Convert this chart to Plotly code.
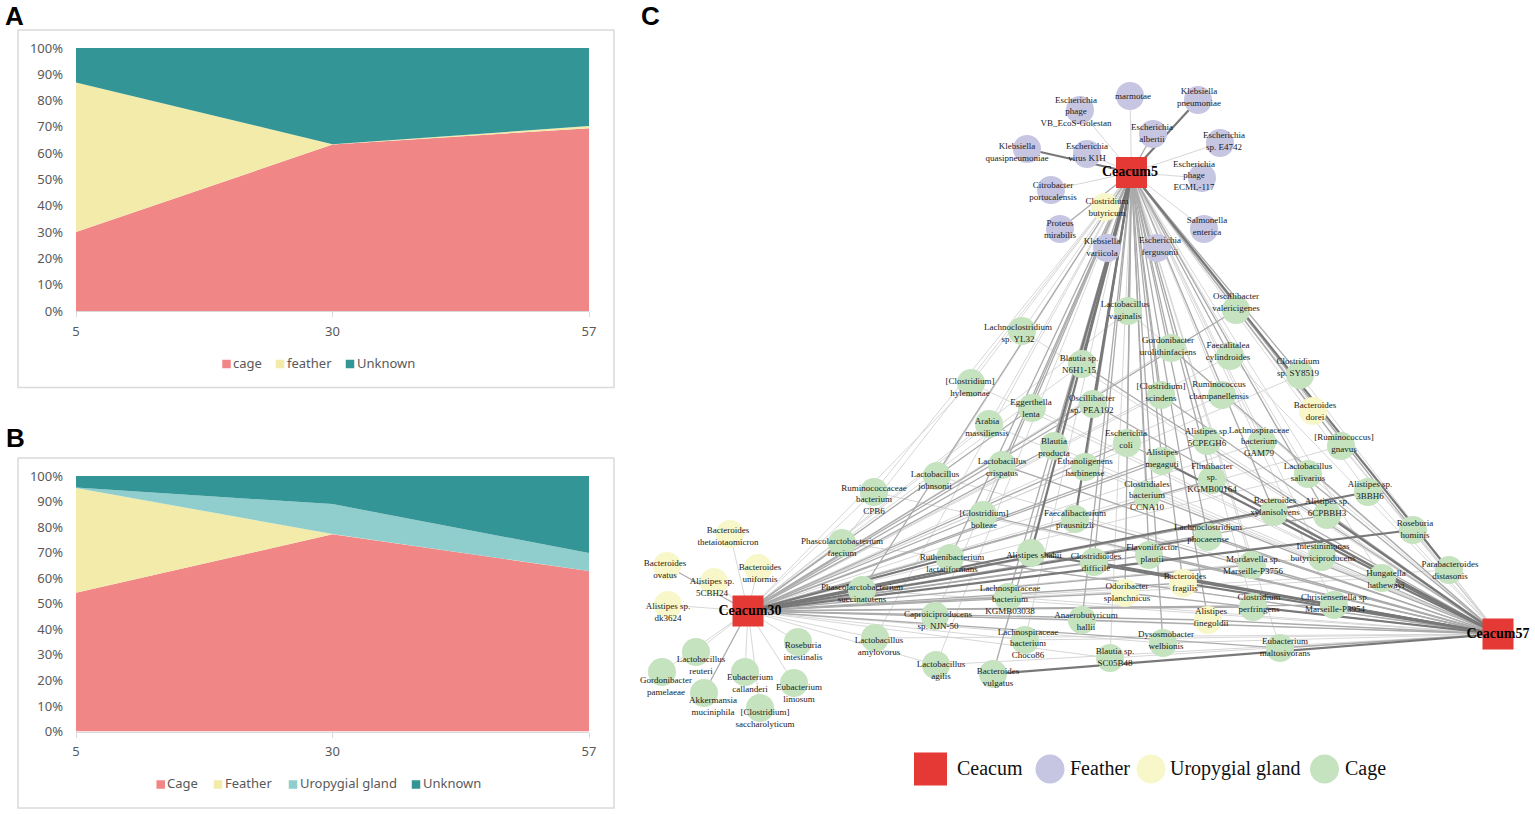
import plotly.graph_objects as go

W, H = 1535, 814

# Panel A / B data
time_labels = ["5", "30", "57"]
a_names = ["cage", "feather", "Unknown"]
a_cage = [30.0, 63.3, 69.5]
a_feather = [56.9, 0.1, 0.8]
a_unknown = [13.1, 36.6, 29.7]
b_names = ["Cage", "Feather", "Uropygial gland", "Unknown"]
b_cage = [54.3, 77.2, 62.8]
b_feather = [41.0, 0.1, 0.0]
b_gland = [0.2, 11.7, 7.1]
b_unknown = [4.5, 11.0, 30.1]

COL_CAGE, COL_FEATHER, COL_GLAND, COL_UNKNOWN = "#F08686", "#F2EBAA", "#90CDCD", "#339595"

# Panel C network data
hub_names = ["Ceacum5", "Ceacum30", "Ceacum57"]
hub_x = [1131.5, 748, 1498]
hub_y = [172.5, 611, 634]
hub_label_x = [1130, 750, 1498]

node_names = [
    "marmotae", "Klebsiella<br>pneumoniae", "Escherichia<br>phage<br>VB_EcoS-Golestan", "Escherichia<br>albertii",
    "Escherichia<br>sp. E4742", "Klebsiella<br>quasipneumoniae", "Escherichia<br>virus K1H", "Escherichia<br>phage<br>ECML-117",
    "Citrobacter<br>portucalensis", "Clostridium<br>butyricum", "Proteus<br>mirabilis", "Klebsiella<br>variicola",
    "Escherichia<br>fergusonii", "Salmonella<br>enterica",
    "Bacteroides<br>thetaiotaomicron", "Bacteroides<br>ovatus", "Bacteroides<br>uniformis", "Alistipes sp.<br>5CBH24",
    "Alistipes sp.<br>dk3624", "Roseburia<br>intestinalis", "Lactobacillus<br>reuteri", "Gordonibacter<br>pamelaeae",
    "Eubacterium<br>callanderi", "Eubacterium<br>limosum", "Akkermansia<br>muciniphila", "[Clostridium]<br>saccharolyticum",
    "Lactobacillus<br>vaginalis", "Lachnoclostridium<br>sp. YL32", "Gordonibacter<br>urolithinfaciens", "Blautia sp.<br>N6H1-15",
    "[Clostridium]<br>hylemonae", "Oscillibacter<br>sp. PEA192", "[Clostridium]<br>scindens", "Eggerthella<br>lenta",
    "Arabia<br>massiliensis", "Escherichia<br>coli", "Alistipes sp.<br>5CPEGH6", "Blautia<br>producta",
    "Alistipes<br>megaguti", "Lactobacillus<br>crispatus", "Ethanoligenens<br>harbinense", "Flintibacter<br>sp.<br>KGMB00164",
    "Clostridiales<br>bacterium<br>CCNA10", "Lactobacillus<br>johnsonii", "Faecalitalea<br>cylindroides", "Oscillibacter<br>valericigenes",
    "Clostridium<br>sp. SY8519", "Ruminococcus<br>champanellensis", "Bacteroides<br>dorei", "Lachnospiraceae<br>bacterium<br>GAM79",
    "[Ruminococcus]<br>gnavus", "Lactobacillus<br>salivarius", "Alistipes sp.<br>3BBH6", "Bacteroides<br>xylanisolvens",
    "Alistipes sp.<br>6CPBBH3", "Roseburia<br>hominis", "Lachnoclostridium<br>phocaeense", "Intestinimonas<br>butyriciproducens",
    "Mordavella sp.<br>Marseille-P3756", "Hungatella<br>hathewayi", "Parabacteroides<br>distasonis", "Clostridium<br>perfringens",
    "Christensenella sp.<br>Marseille-P3954", "Alistipes<br>finegoldii", "Eubacterium<br>maltosivorans", "[Clostridium]<br>bolteae",
    "Faecalibacterium<br>prausnitzii", "Ruthenibacterium<br>lactatiformans", "Alistipes shahii", "Clostridioides<br>difficile",
    "Flavonifractor<br>plautii", "Bacteroides<br>fragilis", "Odoribacter<br>splanchnicus", "Lachnospiraceae<br>bacterium<br>KGMB03038",
    "Caproiciproducens<br>sp. NJN-50", "Anaerobutyricum<br>hallii", "Lachnospiraceae<br>bacterium<br>Choco86", "Dysosmobacter<br>welbionis",
    "Blautia sp.<br>SC05B48", "Lactobacillus<br>agilis", "Bacteroides<br>vulgatus", "Phascolarctobacterium<br>faecium",
    "Phascolarctobacterium<br>succinatutens", "Lactobacillus<br>amylovorus", "Ruminococcaceae<br>bacterium<br>CPB6",
]
node_group = [
    "F", "F", "F", "F", "F", "F", "F", "F", "F", "U", "F", "F", "F", "F",
    "U", "U", "U", "U", "U", "C", "C", "C", "C", "C", "C", "C",
    "C", "C", "C", "C", "C", "C", "C", "C", "C", "C", "C", "C", "C", "C", "C", "C", "C", "C", "C", "C",
    "C", "C", "U", "C", "C", "C", "C", "C", "C", "C", "C", "C", "C", "C", "C", "C", "C", "U", "C", "C",
    "C", "C", "C", "C", "C", "U", "U", "C", "C", "C", "C", "C", "C", "C", "C", "C", "C", "C", "C",
]
node_x = [
    1130, 1198, 1080, 1153, 1220, 1027, 1087, 1202, 1051, 1105, 1060, 1107, 1157, 1204,
    730, 667, 758, 714, 668, 798, 696, 662, 745, 794, 704, 760,
    1128, 1022, 1171, 1082, 971, 1093, 1161, 1032, 989, 1127, 1207, 1054, 1162, 1002, 1085, 1212,
    1147, 937, 1230, 1236, 1300, 1222, 1313, 1262, 1341, 1308, 1368, 1274, 1327, 1413, 1208, 1322,
    1252, 1382, 1449, 1253, 1334, 1208, 1280, 983, 1075, 950, 1031, 1094, 1149, 1183, 1125, 1008,
    935, 1082, 1025, 1163, 1110, 936, 993, 842, 862, 875, 874,
]
node_y = [
    96, 100, 110, 134, 143, 149, 154, 178, 190, 207, 229, 248, 248, 229,
    534, 566, 568, 582, 605, 642, 652, 672, 672, 683, 693, 708,
    311, 331, 348, 364, 383, 404, 395, 408, 424, 443, 441, 446, 461, 465, 467, 480,
    495, 476, 356, 310, 375, 395, 411, 442, 446, 474, 492, 512, 515, 530, 537, 557,
    565, 578, 570, 607, 605, 620, 648, 515, 519, 558, 553, 562, 555, 583, 593, 597,
    616, 620, 640, 643, 658, 665, 674, 543, 590, 638, 492,
]
label_x = [
    1133, 1199, 1076, 1152, 1224, 1017, 1087, 1194, 1053, 1107, 1060, 1102, 1160, 1207,
    728, 665, 760, 712, 668, 803, 701, 666, 750, 799, 713, 765,
    1125, 1018, 1168, 1079, 970, 1092, 1161, 1031, 987, 1126, 1207, 1054, 1162, 1002, 1085, 1212,
    1147, 935, 1228, 1236, 1298, 1219, 1315, 1259, 1344, 1308, 1370, 1275, 1327, 1415, 1208, 1323,
    1253, 1386, 1450, 1259, 1335, 1211, 1285, 984, 1075, 952, 1034, 1096, 1152, 1185, 1127, 1010,
    938, 1086, 1028, 1166, 1115, 941, 998, 842, 862, 879, 874,
]
label_y = [
    97, 98, 112, 134, 142, 153, 153, 176, 192, 208, 230, 248, 247, 227,
    537, 570, 574, 588, 613, 652, 666, 687, 684, 694, 707, 719,
    311, 334, 347, 365, 388, 405, 393, 409, 428, 440, 438, 448, 459, 468, 468, 478,
    496, 481, 352, 303, 368, 391, 412, 442, 444, 473, 491, 507, 508, 530, 534, 553,
    566, 580, 571, 604, 604, 618, 648, 520, 520, 564, 556, 563, 554, 583, 593, 600,
    621, 622, 644, 641, 658, 671, 678, 548, 594, 647, 500,
]
# Edge strength class to each hub (0 = no edge, 1 = thin, 2 = medium, 3 = heavy)
weight_to_5 = [
    1, 3, 1, 2, 1, 3, 1, 1, 1, 1, 2, 2, 1, 1,
    0, 0, 0, 0, 0, 0, 0, 0, 0, 0, 0, 0,
    2, 1, 2, 3, 1, 3, 2, 2, 1, 2, 2, 3, 2, 2, 2, 2,
    2, 1, 2, 1, 2, 1, 1, 1, 2, 1, 1, 2, 2, 2, 2, 1,
    1, 1, 3, 1, 1, 2, 1, 2, 3, 2, 3, 2, 2, 2, 2, 2,
    1, 2, 1, 2, 1, 1, 2, 1, 2, 1, 1,
]
weight_to_30 = [
    0, 0, 0, 0, 0, 0, 0, 0, 0, 0, 0, 0, 0, 0,
    1, 2, 1, 1, 1, 1, 1, 1, 1, 1, 2, 1,
    1, 0, 1, 1, 1, 2, 1, 2, 1, 2, 2, 2, 2, 2, 1, 2,
    1, 1, 1, 2, 1, 1, 0, 1, 1, 1, 3, 2, 2, 3, 3, 1,
    2, 1, 1, 2, 2, 2, 2, 2, 2, 3, 3, 2, 2, 2, 2, 2,
    1, 2, 1, 1, 1, 1, 0, 2, 2, 1, 1,
]
weight_to_57 = [
    0, 0, 0, 0, 0, 0, 0, 0, 0, 0, 0, 0, 0, 0,
    0, 0, 0, 0, 0, 0, 0, 0, 0, 0, 0, 0,
    1, 1, 2, 2, 1, 2, 2, 1, 1, 2, 1, 1, 3, 2, 1, 3,
    2, 1, 1, 1, 1, 1, 1, 2, 1, 1, 1, 2, 3, 1, 2, 2,
    2, 3, 1, 3, 3, 2, 2, 2, 2, 2, 3, 3, 2, 3, 2, 1,
    1, 2, 1, 1, 1, 1, 3, 1, 1, 1, 1,
]
assert len(node_names) == len(node_group) == len(node_x) == len(node_y) == len(label_x) == len(label_y)
assert len(node_names) == len(weight_to_5) == len(weight_to_30) == len(weight_to_57)

legend_names = ["Ceacum", "Feather", "Uropygial gland", "Cage"]
legend_marker_x = [930.5, 1050, 1151, 1324.5]
legend_text_x = [957, 1070, 1170, 1345]
legend_y = 769

# Keys of panels A and B
a_key_y = 364
a_key_marker_x = [226.5, 280, 350]
a_key_text_x = [233, 287, 357]
b_key_y = 784.5
b_key_marker_x = [160.7, 218, 293, 416]
b_key_text_x = [167, 225, 300, 423]

GROUP_COLORS = {"F": "#C6C6E3", "U": "#F8F7C9", "C": "#C6E3C0"}
EDGE_STYLES = {1: ("#D2D2D2", 0.9), 2: ("#ABABAB", 1.3), 3: ("#787878", 2.2)}
SERIF = "Liberation Serif"
SANS = "Noto Sans"
TICK = "#595959"

fig = go.Figure()

for name, vals, col in zip(a_names, [a_cage, a_feather, a_unknown], [COL_CAGE, COL_FEATHER, COL_UNKNOWN]):
    fig.add_trace(go.Scatter(x=time_labels, y=vals, name=name, stackgroup="a", mode="none",
                             fillcolor=col, xaxis="x", yaxis="y", showlegend=False, hoverinfo="skip"))
for name, vals, col in zip(b_names, [b_cage, b_feather, b_gland, b_unknown],
                           [COL_CAGE, COL_FEATHER, COL_GLAND, COL_UNKNOWN]):
    fig.add_trace(go.Scatter(x=time_labels, y=vals, name=name, stackgroup="b", mode="none",
                             fillcolor=col, xaxis="x2", yaxis="y2", showlegend=False, hoverinfo="skip"))

# Edges, light first so that the heavy ones sit on top
for cls in (1, 2, 3):
    ex, ey = [], []
    for weights, hx, hy in zip([weight_to_5, weight_to_30, weight_to_57], hub_x, hub_y):
        for w, nx, ny in zip(weights, node_x, node_y):
            if w == cls:
                ex += [hx, nx, None]
                ey += [hy, ny, None]
    color, width = EDGE_STYLES[cls]
    fig.add_trace(go.Scatter(x=ex, y=ey, mode="lines", line=dict(color=color, width=width),
                             xaxis="x3", yaxis="y3", showlegend=False, hoverinfo="skip"))

# Nodes
fig.add_trace(go.Scatter(x=node_x, y=node_y, mode="markers",
                         marker=dict(size=28, color=[GROUP_COLORS[g] for g in node_group], line_width=0),
                         xaxis="x3", yaxis="y3", showlegend=False, hoverinfo="skip"))
fig.add_trace(go.Scatter(x=hub_x, y=hub_y, mode="markers",
                         marker=dict(size=31, symbol="square", color="#E53935", line_width=0),
                         xaxis="x3", yaxis="y3", showlegend=False, hoverinfo="skip"))
fig.add_trace(go.Scatter(x=label_x, y=label_y, text=node_names, mode="text", textposition="middle center",
                         textfont=dict(family=SERIF, size=9, color="#1a1a1a"),
                         xaxis="x3", yaxis="y3", showlegend=False, hoverinfo="skip"))
fig.add_trace(go.Scatter(x=hub_label_x, y=hub_y, text=["<b>%s</b>" % n for n in hub_names], mode="text",
                         textposition="middle center", textfont=dict(family=SERIF, size=14, color="#000"),
                         xaxis="x3", yaxis="y3", showlegend=False, hoverinfo="skip"))

# Panel C key
fig.add_trace(go.Scatter(x=legend_marker_x, y=[legend_y] * 4, mode="markers",
                         marker=dict(size=[33, 29, 29, 29], symbol=["square", "circle", "circle", "circle"],
                                     color=["#E53935", GROUP_COLORS["F"], GROUP_COLORS["U"], GROUP_COLORS["C"]],
                                     opacity=1, line_width=0),
                         xaxis="x3", yaxis="y3", showlegend=False, hoverinfo="skip"))
fig.add_trace(go.Scatter(x=legend_text_x, y=[legend_y + 1] * 4, text=legend_names, mode="text",
                         textposition="middle right", textfont=dict(family=SERIF, size=20, color="#111"),
                         xaxis="x3", yaxis="y3", showlegend=False, hoverinfo="skip"))

# Keys of panels A and B
for names, mx, tx, ky, cols in [
    (a_names, a_key_marker_x, a_key_text_x, a_key_y, [COL_CAGE, COL_FEATHER, COL_UNKNOWN]),
    (b_names, b_key_marker_x, b_key_text_x, b_key_y, [COL_CAGE, COL_FEATHER, COL_GLAND, COL_UNKNOWN]),
]:
    fig.add_trace(go.Scatter(x=mx, y=[ky] * len(mx), mode="markers",
                             marker=dict(size=8.5, symbol="square", color=cols, line_width=0),
                             xaxis="x3", yaxis="y3", showlegend=False, hoverinfo="skip"))
    fig.add_trace(go.Scatter(x=tx, y=[ky + 0.5] * len(tx), text=names, mode="text", textposition="middle right",
                             textfont=dict(family=SANS, size=13, color=TICK),
                             xaxis="x3", yaxis="y3", showlegend=False, hoverinfo="skip"))


def dom_x(a, b):
    return [a / W, b / W]


def dom_y(top, bottom):
    return [1 - bottom / H, 1 - top / H]


x_common = dict(type="category", range=[0, 2], showgrid=False, showline=True, linecolor="#D9D9D9", linewidth=1,
                ticks="outside", ticklen=5, tickcolor="#D9D9D9", tickfont=dict(family=SANS, size=13, color=TICK),
                zeroline=False, fixedrange=True, ticklabelstandoff=3)
y_common = dict(range=[0, 100], dtick=10, ticksuffix="%", showgrid=False, showline=False, ticks="",
                tickfont=dict(family=SANS, size=13, color=TICK), zeroline=False, ticklabelstandoff=12,
                fixedrange=True)

panel_letters = [("A", 14.5, 16), ("B", 15, 438), ("C", 650, 16)]
frames = [(18, 30, 614, 387.5), (18, 458, 614, 808)]

fig.update_layout(
    width=W, height=H, autosize=False, margin=dict(l=0, r=0, t=0, b=0, autoexpand=False),
    showlegend=False,
    paper_bgcolor="white", plot_bgcolor="rgba(0,0,0,0)",
    xaxis=dict(domain=dom_x(76, 589), anchor="y", **x_common),
    yaxis=dict(domain=dom_y(48, 311), anchor="x", **y_common),
    xaxis2=dict(domain=dom_x(76, 589), anchor="y2", **x_common),
    yaxis2=dict(domain=dom_y(476, 731.5), anchor="x2", **y_common),
    xaxis3=dict(domain=[0, 1], range=[0, W], visible=False, anchor="y3", fixedrange=True),
    yaxis3=dict(domain=[0, 1], range=[H, 0], visible=False, anchor="x3", fixedrange=True),
    shapes=[dict(type="rect", xref="x3", yref="y3", x0=a, y0=b, x1=c, y1=d,
                 line=dict(color="#DADADA", width=1.5), fillcolor="rgba(0,0,0,0)", layer="below")
            for a, b, c, d in frames],
    annotations=[dict(text="<b>%s</b>" % t, xref="x3", yref="y3", x=x, y=y, showarrow=False,
                      font=dict(family="Liberation Sans", size=26, color="#000"))
                 for t, x, y in panel_letters],
)

fig.write_html("out.html", post_script="document.body.style.margin='0';document.body.style.overflow='hidden';",
               config={"displayModeBar": False})
